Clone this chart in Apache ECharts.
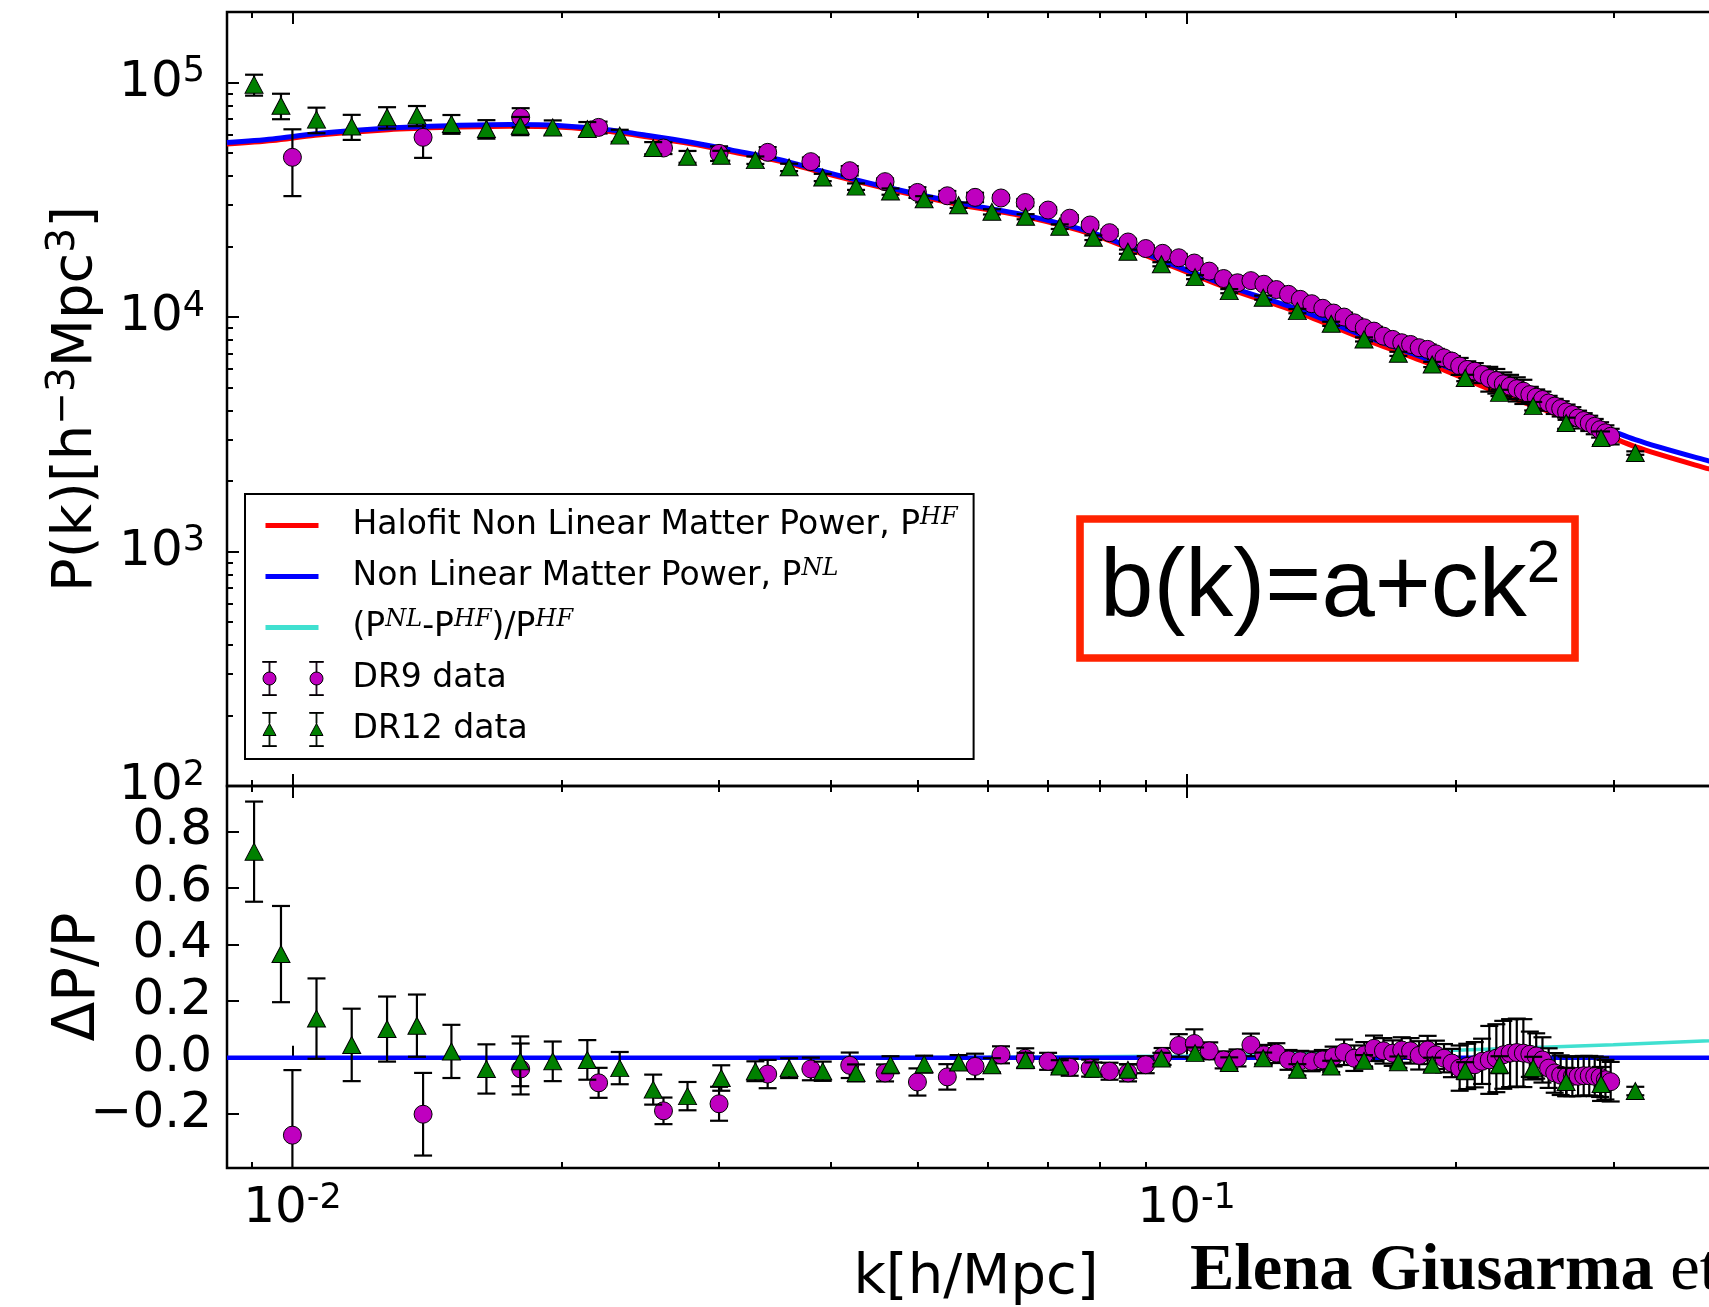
<!DOCTYPE html>
<html><head><meta charset="utf-8">
<script src="https://cdn.jsdelivr.net/npm/echarts@6/dist/echarts.min.js"></script>
<style>html,body{margin:0;padding:0;background:#fff;overflow:hidden}#c{width:1730px;height:1307px}</style>
</head><body><div id="c"></div>
<script>
// ---------------- data ----------------
const modelK = [0.00845,0.0095,0.0106,0.0128,0.015,0.0175,0.020,0.0225,0.025,0.028,0.031,0.035,0.040,0.0466,0.0556,0.066,0.0787,0.0937,0.1116,0.133,0.158,0.188,0.224,0.266,0.3175,0.384,0.40];
const pNL = [55500,57500,60500,64000,65500,66200,65500,63000,59500,55500,51500,47000,41000,35500,30700,27200,22800,17500,13500,10800,8300,6500,4950,3920,3000,2430,2350];
const pHF = [54700,56600,59600,63000,64500,65200,64500,62000,58600,54700,50700,46300,40400,35000,30200,26800,22400,17200,13200,10500,8050,6250,4720,3700,2800,2250,2170];
const ratioK = [0.00845,0.03,0.06,0.10,0.13,0.145,0.195,0.25,0.30,0.384,0.40];
const ratioV = [0,0,0.001,0.006,0.013,0.016,0.025,0.037,0.046,0.060,0.063];
const zeroK = [0.00845,0.40];
const zeroV = [0,0];

const dr9K = [0.010,0.014,0.018,0.022,0.026,0.030,0.034,0.038,0.042,0.046,0.050,0.054,0.058,0.062,0.066,0.070,0.074,0.078,0.082,0.086,0.090,0.094,0.098,0.102,0.106,0.110,0.114,0.118,0.122,0.126,0.130,0.134,0.138,0.142,0.146,0.150,0.154,0.158,0.162,0.166,0.170,0.174,0.178,0.182,0.186,0.190,0.194,0.198,0.202,0.206,0.210,0.214,0.218,0.222,0.226,0.230,0.234,0.238,0.242,0.246,0.250,0.254,0.258,0.262,0.266,0.270,0.274,0.278,0.282,0.286,0.290,0.294,0.298];
const dr9P = [48000,58400,71100,64400,52600,49900,50400,46000,42100,37800,34000,32900,32400,32200,30800,28600,26400,24700,22900,20900,19600,18700,17900,17000,15700,14600,14000,14300,13800,13100,12500,11900,11400,10900,10400,10000,9450,9000,8710,8290,8030,7770,7640,7400,7280,6970,6700,6490,6180,5980,5880,5690,5470,5360,5190,5070,4950,4830,4670,4550,4450,4300,4170,4070,3940,3840,3710,3620,3530,3420,3310,3210,3100];
const dr9D = [-0.274,-0.200,-0.040,-0.089,-0.188,-0.163,-0.058,-0.040,-0.027,-0.054,-0.086,-0.068,-0.031,0.010,-0.002,-0.013,-0.034,-0.037,-0.048,-0.054,-0.025,0.004,0.043,0.050,0.024,-0.008,-0.001,0.045,0.010,0.016,-0.008,-0.011,-0.013,-0.008,0.004,0.019,-0.002,0.010,0.033,0.024,0.016,0.027,0.024,0.008,0.027,0.010,-0.002,-0.019,-0.037,-0.031,-0.025,-0.013,-0.008,-0.002,0.010,0.016,0.018,0.016,0.012,0.006,-0.008,-0.037,-0.054,-0.062,-0.066,-0.066,-0.066,-0.064,-0.064,-0.066,-0.069,-0.078,-0.085];
const dr9E = [0.23,0.146,0.09,0.053,0.047,0.06,0.05,0.04,0.045,0.03,0.048,0.045,0.045,0.03,0.035,0.03,0.03,0.03,0.03,0.03,0.03,0.03,0.04,0.05,0.03,0.03,0.03,0.04,0.035,0.035,0.035,0.035,0.035,0.035,0.035,0.045,0.045,0.045,0.045,0.045,0.045,0.045,0.045,0.05,0.05,0.05,0.05,0.05,0.08,0.08,0.08,0.08,0.12,0.12,0.12,0.12,0.12,0.12,0.08,0.08,0.08,0.07,0.07,0.07,0.07,0.07,0.07,0.07,0.07,0.07,0.07,0.07,0.07];

const dr12K = [0.00906,0.00971,0.01064,0.01165,0.01276,0.01378,0.01506,0.01648,0.01798,0.01955,0.02137,0.02323,0.02532,0.02766,0.03017,0.03294,0.03593,0.03918,0.04269,0.04665,0.05087,0.05559,0.06057,0.06606,0.07213,0.07865,0.08597,0.0937,0.1022,0.1116,0.1218,0.1330,0.1451,0.1579,0.1725,0.1882,0.2049,0.2238,0.2441,0.2657,0.2907,0.3175];
const dr12P = [98000,79700,69500,64900,71100,72300,66600,63400,65500,64400,63400,59400,52600,48300,48800,46700,43500,39400,36000,34300,31800,30000,28100,26800,24300,21800,19000,16800,14800,12900,12100,10600,9360,8030,6970,6280,5500,4750,4170,3530,3050,2630];
const dr12D = [0.728,0.366,0.138,0.045,0.101,0.113,0.022,-0.040,-0.013,-0.013,-0.008,-0.037,-0.113,-0.136,-0.072,-0.048,-0.037,-0.048,-0.054,-0.025,-0.023,-0.017,-0.027,-0.008,-0.031,-0.039,-0.043,-0.003,0.016,-0.019,-0.002,-0.043,-0.031,-0.011,-0.016,-0.025,-0.046,-0.025,-0.037,-0.086,-0.093,-0.118];
const dr12E = [0.177,0.17,0.142,0.128,0.115,0.11,0.094,0.087,0.088,0.07,0.07,0.057,0.053,0.05,0.045,0.035,0.035,0.034,0.03,0.03,0.03,0.026,0.025,0.025,0.022,0.022,0.02,0.02,0.02,0.02,0.02,0.02,0.02,0.02,0.02,0.025,0.03,0.03,0.04,0.05,0.06,0.015];

// ticks
const xMajor = [0.01, 0.1];
const xMinor = [0.009,0.02,0.03,0.04,0.05,0.06,0.07,0.08,0.09,0.2,0.3];
const pMajor = [100,1000,10000,100000];
const pMinor = [200,300,400,500,600,700,800,900,2000,3000,4000,5000,6000,7000,8000,9000,20000,30000,40000,50000,60000,70000,80000,90000];
const dTicks = [-0.2,0,0.2,0.4,0.6,0.8];

const N_HF = 'Halofit Non Linear Matter Power, P^HF';
const N_NL = 'Non Linear Matter Power, P^NL';
const N_R = '(P^NL-P^HF)/P^HF';
const N_9 = 'DR9 data';
const N_12 = 'DR12 data';

// ---------------- build ----------------
const FONT = 'DejaVu Sans';
const kMin = 0.00845, kMax = 0.40;
const zip = (a, b) => a.map((v, i) => [v, b[i]]);

function xAx(grid, pos, ticks, len, withLabels) {
  const ax = {
    type: 'log', logBase: 10, gridIndex: grid, position: pos, min: kMin, max: kMax,
    axisLine: {show: false}, splitLine: {show: false},
    axisTick: {show: true, inside: true, length: len, customValues: ticks, lineStyle: {color: '#000', width: 2}},
    axisLabel: {show: false}
  };
  if (withLabels) {
    ax.axisLabel = {
      show: true, customValues: xMajor, margin: 13,
      formatter: v => '{b|10}{s|' + Math.round(Math.log10(v)) + '}',
      rich: {
        b: {fontFamily: FONT, fontSize: 50, lineHeight: 56, color: '#000'},
        s: {fontFamily: FONT, fontSize: 35, lineHeight: 20, verticalAlign: 'top', color: '#000'}
      }
    };
    ax.name = 'k[h/Mpc]';
    ax.nameLocation = 'middle';
    ax.nameGap = 82;
    ax.nameMoveOverlap = false;
    ax.nameTextStyle = {fontFamily: FONT, fontSize: 56, color: '#000'};
  }
  return ax;
}

function errRender(params, api) {
  const k = api.value(0), lo = api.value(1), hi = api.value(2);
  const a = api.coord([k, hi]), b = api.coord([k, lo]);
  const hw = 9, st = {stroke: '#000', lineWidth: 2.2};
  const cs = params.coordSys;
  return {
    type: 'group',
    clipPath: {type: 'rect', shape: {x: cs.x, y: cs.y, width: cs.width, height: cs.height}},
    children: [
      {type: 'line', shape: {x1: a[0], y1: a[1], x2: b[0], y2: b[1]}, style: st},
      {type: 'line', shape: {x1: a[0] - hw, y1: a[1], x2: a[0] + hw, y2: a[1]}, style: st},
      {type: 'line', shape: {x1: b[0] - hw, y1: b[1], x2: b[0] + hw, y2: b[1]}, style: st}
    ]
  };
}
function errSeries(name, xi, yi, data, z) {
  return {type: 'custom', name: name, xAxisIndex: xi, yAxisIndex: yi, z: z, data: data,
          encode: {x: 0, y: [1, 2]}, renderItem: errRender, silent: true};
}

const topErr = (K, P, D, E) => K.map((k, i) => {
  const s = E[i] * P[i] / (1 + D[i]);
  return [k, P[i] - s, P[i] + s];
});
const botErr = (K, D, E) => K.map((k, i) => [k, D[i] - E[i], D[i] + E[i]]);

const MAG = '#BF00BF', GRN = '#008000';

function mk(cx, tri) {
  const c0 = cx - 7, c1 = cx + 7;
  let s = `M${c0} 0H${c1}V0.8H${c0}Z M${c0} 33.2H${c1}V34H${c0}Z `;
  if (tri) {
    s += `M${cx-0.4} 0.8H${cx+0.4}V11H${cx-0.4}Z M${cx-0.4} 23H${cx+0.4}V33.2H${cx-0.4}Z `;
    s += `M${cx} 11L${cx+6.5} 23L${cx-6.5} 23Z `;
  } else {
    s += `M${cx-0.4} 0.8H${cx+0.4}V10.5H${cx-0.4}Z M${cx-0.4} 23.5H${cx+0.4}V33.2H${cx-0.4}Z `;
    s += `M${cx+6.5} 17A6.5 6.5 0 1 1 ${cx-6.5} 17A6.5 6.5 0 1 1 ${cx+6.5} 17Z `;
  }
  return s;
}
const BOX = 'M0 0M85 34';
const LINE_ICON = 'path://' + BOX + 'M3 14.5H56V19.5H3Z';
const DR9_ICON = 'path://' + BOX + mk(7, false) + mk(54, false);
const DR12_ICON = 'path://' + BOX + mk(7, true) + mk(54, true);

const legendText = {};
legendText[N_HF] = '{n|Halofit Non Linear Matter Power, P}{s|HF}';
legendText[N_NL] = '{n|Non Linear Matter Power, P}{s|NL}';
legendText[N_R] = '{n|(P}{s|NL}{n|-P}{s|HF}{n|)/P}{s|HF}';
legendText[N_9] = '{n|DR9 data}';
legendText[N_12] = '{n|DR12 data}';

const option = {
  animation: false,
  backgroundColor: '#fff',
  grid: [
    {left: 227, top: 12, width: 1498, height: 774, show: true, borderColor: '#000', borderWidth: 2.5, backgroundColor: 'rgba(0,0,0,0)'},
    {left: 227, top: 786, width: 1498, height: 385, show: true, borderColor: '#000', borderWidth: 2.5, backgroundColor: 'rgba(0,0,0,0)'}
  ],
  xAxis: [
    xAx(0, 'bottom', xMajor, 12), xAx(0, 'bottom', xMinor, 6),
    xAx(0, 'top', xMajor, 12), xAx(0, 'top', xMinor, 6),
    xAx(1, 'bottom', xMajor, 12, true), xAx(1, 'bottom', xMinor, 6),
    xAx(1, 'top', xMajor, 12), xAx(1, 'top', xMinor, 6)
  ],
  yAxis: [
    {type: 'log', logBase: 10, gridIndex: 0, position: 'left', min: 100, max: 200000,
     axisLine: {show: false}, splitLine: {show: false},
     axisTick: {show: true, inside: true, length: 12, customValues: pMajor, lineStyle: {color: '#000', width: 2}},
     axisLabel: {show: true, customValues: pMajor, margin: 22,
       formatter: v => '{b|10}{s|' + Math.round(Math.log10(v)) + '}',
       rich: {b: {fontFamily: FONT, fontSize: 50, lineHeight: 56, color: '#000'},
              s: {fontFamily: FONT, fontSize: 35, lineHeight: 35, verticalAlign: 'top', color: '#000'}}},
     name: '{n|P(k)[h}{s|−3}{n|Mpc}{s|3}{n|]}', nameLocation: 'middle', nameRotate: 90, nameGap: 119,
     nameMoveOverlap: false,
     nameTextStyle: {color: '#000', rich: {
       n: {fontFamily: FONT, fontSize: 56, lineHeight: 64, color: '#000'},
       s: {fontFamily: FONT, fontSize: 39, lineHeight: 40, verticalAlign: 'top', color: '#000'}}}},
    {type: 'log', logBase: 10, gridIndex: 0, position: 'left', min: 100, max: 200000,
     axisLine: {show: false}, splitLine: {show: false}, axisLabel: {show: false},
     axisTick: {show: true, inside: true, length: 6, customValues: pMinor, lineStyle: {color: '#000', width: 2}}},
    {type: 'value', gridIndex: 1, position: 'left', min: -0.39, max: 0.96,
     axisLine: {show: false}, splitLine: {show: false},
     axisTick: {show: true, inside: true, length: 12, customValues: dTicks, lineStyle: {color: '#000', width: 2}},
     axisLabel: {show: true, customValues: dTicks, margin: 15, fontFamily: FONT, fontSize: 50, color: '#000',
       formatter: v => (v < -1e-9 ? '−' : '') + Math.abs(v).toFixed(1)},
     name: 'ΔP/P', nameLocation: 'middle', nameRotate: 90, nameGap: 119, nameMoveOverlap: false,
     nameTextStyle: {fontFamily: FONT, fontSize: 58, color: '#000'}}
  ],
  legend: {
    orient: 'vertical', left: 245, top: 494, padding: [12, 16, 10, 17], itemGap: 12,
    itemWidth: 85, itemHeight: 34, borderColor: '#000', borderWidth: 2, borderRadius: 0,
    backgroundColor: '#fff', selectedMode: false, z: 50,
    textStyle: {fontFamily: FONT, fontSize: 33, color: '#000', lineHeight: 39,
      rich: {n: {fontFamily: FONT, fontSize: 33, lineHeight: 39, color: '#000'},
             s: {fontFamily: 'DejaVu Serif', fontStyle: 'italic', fontSize: 24, lineHeight: 25, verticalAlign: 'top', color: '#000'}}},
    formatter: name => legendText[name],
    data: [
      {name: N_HF, icon: LINE_ICON, itemStyle: {color: '#FF0000', borderWidth: 0}},
      {name: N_NL, icon: LINE_ICON, itemStyle: {color: '#0000FF', borderWidth: 0}},
      {name: N_R, icon: LINE_ICON, itemStyle: {color: '#40E0D0', borderWidth: 0}},
      {name: N_9, icon: DR9_ICON, itemStyle: {color: MAG, borderColor: '#000', borderWidth: 1}},
      {name: N_12, icon: DR12_ICON, itemStyle: {color: GRN, borderColor: '#000', borderWidth: 1}}
    ]
  },
  series: [
    // top panel
    {type: 'line', name: N_HF, xAxisIndex: 0, yAxisIndex: 0, data: zip(modelK, pHF), showSymbol: false, symbol: 'none',
     smooth: 0.3, lineStyle: {color: '#FF0000', width: 5}, itemStyle: {color: '#FF0000'}, z: 2, silent: true},
    {type: 'line', name: N_NL, xAxisIndex: 0, yAxisIndex: 0, data: zip(modelK, pNL), showSymbol: false, symbol: 'none',
     smooth: 0.3, lineStyle: {color: '#0000FF', width: 5}, itemStyle: {color: '#0000FF'}, z: 2, silent: true},
    {type: 'scatter', name: N_9, xAxisIndex: 0, yAxisIndex: 0, data: zip(dr9K, dr9P), symbol: 'circle', symbolSize: 18,
     itemStyle: {color: MAG, borderColor: '#000', borderWidth: 1, opacity: 1}, z: 4, silent: true},
    errSeries('dr9err', 0, 0, topErr(dr9K, dr9P, dr9D, dr9E), 3),
    {type: 'scatter', name: N_12, xAxisIndex: 0, yAxisIndex: 0, data: zip(dr12K, dr12P), symbol: 'triangle', symbolSize: [18, 17],
     itemStyle: {color: GRN, borderColor: '#000', borderWidth: 1, opacity: 1}, z: 6, silent: true},
    errSeries('dr12err', 0, 0, topErr(dr12K, dr12P, dr12D, dr12E), 5),
    // bottom panel
    {type: 'line', name: N_R, xAxisIndex: 4, yAxisIndex: 2, data: zip(ratioK, ratioV), showSymbol: false, symbol: 'none',
     smooth: 0.3, lineStyle: {color: '#40E0D0', width: 3.5}, itemStyle: {color: '#40E0D0'}, z: 2, silent: true},
    {type: 'line', name: N_NL, xAxisIndex: 4, yAxisIndex: 2, data: zip(zeroK, zeroV), showSymbol: false, symbol: 'none',
     lineStyle: {color: '#0000FF', width: 4.5}, itemStyle: {color: '#0000FF'}, z: 2, silent: true},
    {type: 'scatter', name: N_9, xAxisIndex: 4, yAxisIndex: 2, data: zip(dr9K, dr9D), symbol: 'circle', symbolSize: 18,
     itemStyle: {color: MAG, borderColor: '#000', borderWidth: 1, opacity: 1}, z: 4, silent: true, clip: true},
    errSeries('dr9errB', 4, 2, botErr(dr9K, dr9D, dr9E), 3),
    {type: 'scatter', name: N_12, xAxisIndex: 4, yAxisIndex: 2, data: zip(dr12K, dr12D), symbol: 'triangle', symbolSize: [18, 17],
     itemStyle: {color: GRN, borderColor: '#000', borderWidth: 1, opacity: 1}, z: 6, silent: true, clip: true},
    errSeries('dr12errB', 4, 2, botErr(dr12K, dr12D, dr12E), 5)
  ],
  graphic: [
    {type: 'rect', shape: {x: 1080, y: 519, width: 495, height: 139},
     style: {fill: '#fff', stroke: '#FF2200', lineWidth: 7.6}, z: 100},
    {type: 'text', x: 1100, y: 590, z: 101,
     style: {text: '{m|b(k)=a+ck}{s|2}', verticalAlign: 'middle', textVerticalAlign: 'middle', fill: '#000',
       rich: {m: {fontFamily: 'Liberation Sans', fontSize: 96, lineHeight: 110, fill: '#000'},
              s: {fontFamily: 'Liberation Sans', fontSize: 60, lineHeight: 84, verticalAlign: 'top', fill: '#000'}}}},
    {type: 'text', x: 1190, y: 1272, z: 101,
     style: {text: '{b|Elena Giusarma}{n| et al.}', verticalAlign: 'middle', textVerticalAlign: 'middle', fill: '#000',
       rich: {b: {fontFamily: 'Liberation Serif', fontWeight: 'bold', fontSize: 66.5, fill: '#000'},
              n: {fontFamily: 'Liberation Serif', fontSize: 66.5, fill: '#000'}}}}
  ]
};

const chart = echarts.init(document.getElementById('c'), null, {renderer: 'canvas', width: 1730, height: 1307});
chart.setOption(option);
</script></body></html>
